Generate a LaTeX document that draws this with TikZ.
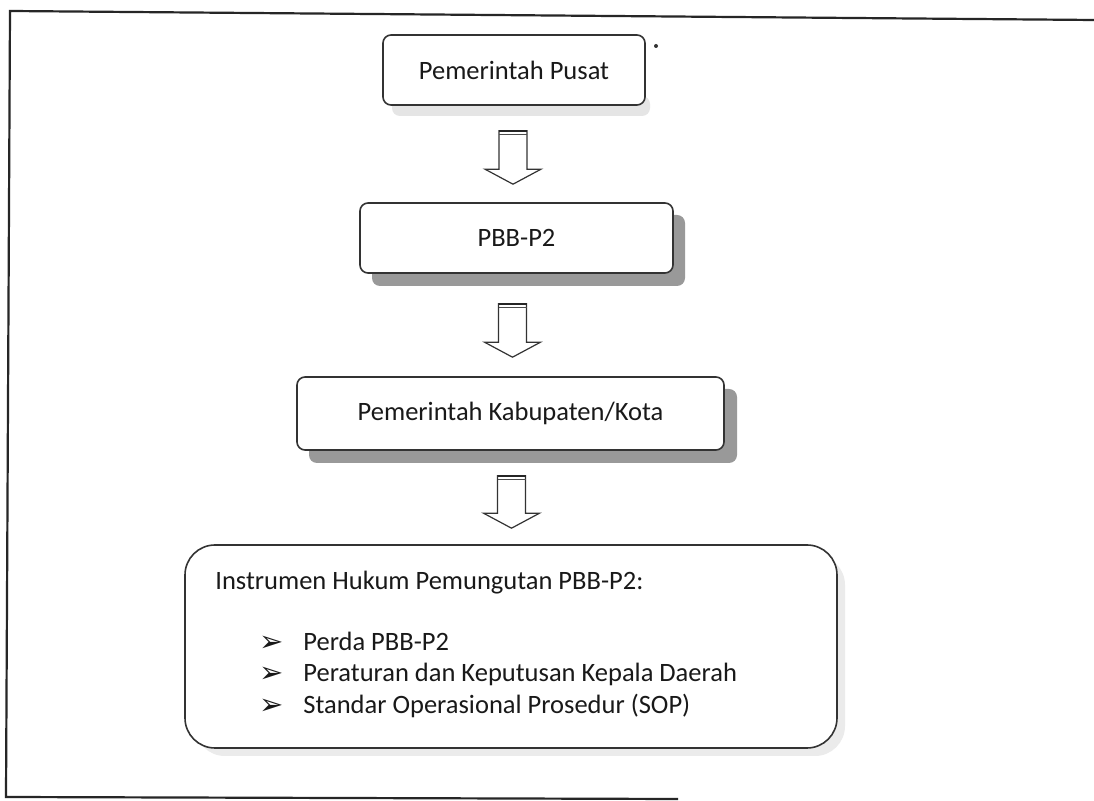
\documentclass[tikz,border=0pt]{standalone}
\usepackage{fontspec}
\setmainfont{Carlito}
\newfontfamily\dvfont{DejaVu Sans}
\usetikzlibrary{calc}
\tikzset{
  box/.style={draw=black!80, line width=0.8pt, rounded corners=4pt, fill=white, inner sep=0pt, text=black!90,
              font=\fontsize{13.25pt}{16pt}\selectfont},
  shadowbox/.style={fill=black!40, draw=none, rounded corners=4pt},
  frameline/.style={draw=black!85, line width=1.1pt},
  barrow/.style={draw=black!80, line width=0.6pt, fill=white, line join=miter},
  txt/.style={anchor=base west, inner sep=0pt, text=black!90, font=\fontsize{13.25pt}{16pt}\selectfont},
}
\newcommand\bul{\makebox[22pt][l]{\raisebox{-0.3pt}{\dvfont\fontsize{14.5pt}{16pt}\selectfont ➢}}}
\newcommand\blockarr[2]{%
  \draw[barrow] let \p1=(#1), \p2=(#2) in
    (\x1-7pt,\y1) -- (\x1-7pt,\y2+7.5pt) -- (\x1-14pt,\y2+7.5pt) -- (\x1,\y2)
    -- (\x1+14pt,\y2+7.5pt) -- (\x1+7pt,\y2+7.5pt) -- (\x1+7pt,\y1) -- cycle;
  \draw[line width=1.1pt, black!85] let \p1=(#1) in (\x1-7pt,\y1) -- (\x1+7pt,\y1);
  \draw[line width=0.5pt, black!70] let \p1=(#1) in (\x1-7pt,\y1-2pt) -- (\x1+7pt,\y1-2pt);
}
\begin{document}
\begin{tikzpicture}[x=0.5pt,y=-0.5pt]
\useasboundingbox (0,0) rectangle (1094,801);
\fill[white] (0,0) rectangle (1094,801);
% outer frame (open on the right, as in the scan)
\coordinate (ftr) at (1094,20);
\coordinate (ftl) at (10,11);
\coordinate (fbl) at (6,797);
\coordinate (fbr) at (678,799);
\draw[frameline] (ftr) -- (ftl) -- (fbl) -- (fbr);
% shadows
\fill[black!10, rounded corners=4pt] (392,96) rectangle (650,116);
\fill[shadowbox] (372,215) rectangle (685,286);
\fill[shadowbox] (309,389) rectangle (737,463);
\fill[black!8, rounded corners=15pt] (195,555) rectangle (845,756);
% boxes
\node[box, minimum width=131pt, minimum height=35pt] (b1) at (514,70) {Pemerintah Pusat};
\node[box, minimum width=156.5pt, minimum height=35pt] (b2) at (516.5,238) {PBB-P2};
\node[box, minimum width=213.5pt, minimum height=36.5pt] (b3) at (510.5,413.5) {Pemerintah Kabupaten/Kota};
\node[box, rounded corners=15pt, minimum width=326pt, minimum height=101.5pt] (b4) at (511,646.5) {};
% contents of the last box
\node[txt] (h) at (215,590) {Instrumen Hukum Pemungutan PBB-P2:};
\node[txt] (l1) at (259,651) {\bul Perda PBB-P2};
\node[txt] (l2) at (259,682) {\bul Peraturan dan Keputusan Kepala Daerah};
\node[txt] (l3) at (259,714) {\bul Standar Operasional Prosedur (SOP)};
% dot near first box
\fill[black!80] (656,46) circle (1pt);
% block arrows
\coordinate (a1s) at ($(b1.south)+(-1,25)$);
\coordinate (a1e) at ($(b2.north)+(0,-18)$);
\coordinate (a2s) at ($(b2.south)+(-4,30)$);
\coordinate (a2e) at ($(b3.north)+(0,-19)$);
\coordinate (a3s) at ($(b3.south)+(1,25)$);
\coordinate (a3e) at ($(b4.north)+(0,-16)$);
\blockarr{a1s}{a1e}
\blockarr{a2s}{a2e}
\blockarr{a3s}{a3e}
\end{tikzpicture}
\end{document}
